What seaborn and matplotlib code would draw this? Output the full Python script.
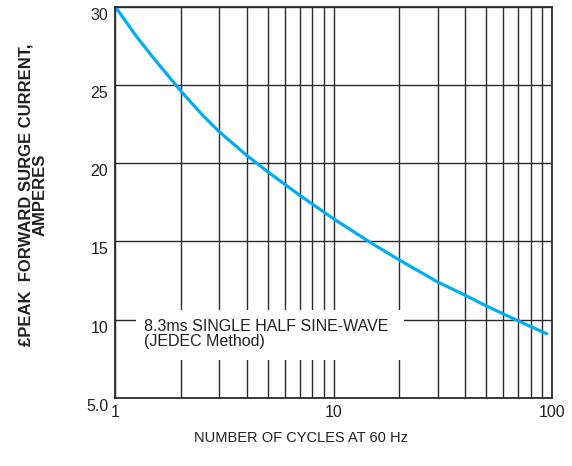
import matplotlib
matplotlib.use("Agg")
import matplotlib.pyplot as plt
import matplotlib.transforms as mtransforms
from matplotlib.patches import Rectangle
from matplotlib.ticker import FixedLocator, NullFormatter
import seaborn as sns
import pandas as pd

# curve (number of cycles vs peak surge current)
cycles = [1, 1.25, 1.5, 2, 2.5, 3, 4, 5, 7, 10, 15, 20, 30, 40, 50, 70, 95]
current = [30.0, 28.1, 26.7, 24.6, 23.1, 22.0, 20.5, 19.45, 17.95, 16.45,
           14.87, 13.82, 12.41, 11.57, 10.89, 9.93, 9.1]

x_major = [1, 10, 100]
x_minor = [2, 3, 4, 5, 6, 7, 8, 9, 20, 30, 40, 50, 60, 70, 80, 90]
y_ticks = [5, 10, 15, 20, 25, 30]
y_labels = ["5.0", "10", "15", "20", "25", "30"]

note = "8.3ms SINGLE HALF SINE-WAVE\n(JEDEC Method)"
note_box = (1.245, 7.4, 21.0, 10.6)  # x0, y0, x1, y1 in data units

df = pd.DataFrame({"cycles": cycles, "current": current})

sns.set_style("white")
plt.rcParams["font.family"] = ["Liberation Sans", "DejaVu Sans"]

fig = plt.figure(figsize=(5.72, 4.66), dpi=100)
ax = fig.add_axes([0.2016, 0.146, 0.763, 0.8396])

ax.set_xscale("log")
ax.set_xlim(1, 100)
ax.set_ylim(5, 30)

ax.xaxis.set_major_locator(FixedLocator(x_major))
ax.xaxis.set_minor_locator(FixedLocator(x_minor))
ax.xaxis.set_minor_formatter(NullFormatter())
ax.set_xticklabels([str(v) for v in x_major])
ax.set_yticks(y_ticks)
ax.set_yticklabels(y_labels)

ax.set_axisbelow(True)
ax.grid(True, which="both", axis="x", color="#2b2b2b", linewidth=1.0)
ax.grid(True, which="major", axis="y", color="#2b2b2b", linewidth=1.0)

# white patch behind the note hides the grid there
x0, y0, x1, y1 = note_box
ax.add_patch(Rectangle((x0, y0), x1 - x0, y1 - y0, facecolor="white",
                       edgecolor="none", zorder=1))
ax.text(1.36, 10.05, note, fontsize=11.5, va="top", ha="left",
        color="#231f20", zorder=3, linespacing=1.0)

sns.lineplot(data=df, x="cycles", y="current", ax=ax, color="#00aeef",
             linewidth=2.3, zorder=2)

for side in ["left", "bottom", "right", "top"]:
    ax.spines[side].set_color("#2b2b2b")
    ax.spines[side].set_linewidth(1.3)

ax.tick_params(which="both", length=0, labelsize=11.5, colors="#231f20")
ax.tick_params(axis="x", pad=5)
ax.tick_params(axis="y", pad=5)

# y tick labels sit a bit below their grid lines in the reference
offset = mtransforms.ScaledTranslation(0, -5 / 72, fig.dpi_scale_trans)
for lbl in ax.get_yticklabels():
    lbl.set_transform(lbl.get_transform() + offset)

ax.set_xlabel("NUMBER OF CYCLES AT 60 Hz", fontsize=10.5, color="#231f20")
ax.xaxis.set_label_coords(0.425, -0.085)
ax.set_ylabel("£PEAK  FORWARD SURGE CURRENT,\nAMPERES", fontsize=12,
              fontweight="bold", color="#231f20", linespacing=0.95)
ax.yaxis.set_label_coords(-0.155, 0.52)

fig.savefig("out.png", dpi=100)
